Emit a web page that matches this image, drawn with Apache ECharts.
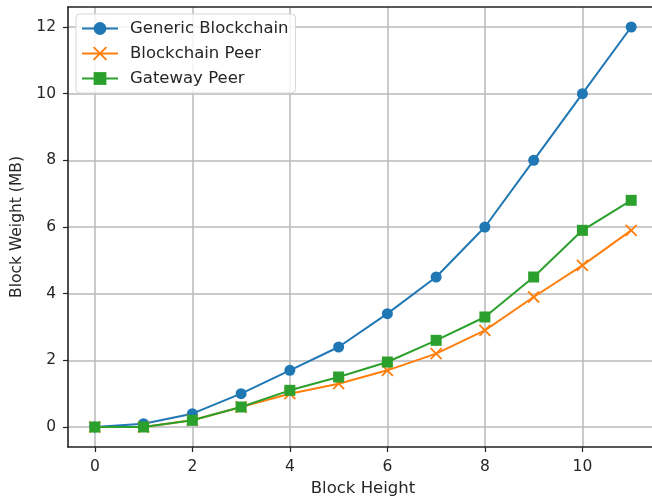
<!DOCTYPE html>
<html>
<head>
<meta charset="utf-8">
<script src="https://cdn.jsdelivr.net/npm/echarts@6/dist/echarts.min.js"></script>
<style>
html,body{margin:0;padding:0;overflow:hidden;background:#fff;}
#c{width:652px;height:497px;}
</style>
</head>
<body>
<div id="c"></div>
<script>
const blockHeights = [0,1,2,3,4,5,6,7,8,9,10,11];
const genericBlockchain = [0,0.1,0.4,1.0,1.7,2.4,3.4,4.5,6.0,8.0,10.0,12.0];
const blockchainPeer = [0,0,0.2,0.6,1.0,1.3,1.7,2.2,2.9,3.9,4.85,5.9];
const gatewayPeer = [0,0,0.2,0.6,1.1,1.5,1.95,2.6,3.3,4.5,5.9,6.8];
const xTicks = [0,2,4,6,8,10];
const yTicks = [0,2,4,6,8,10,12];
const seriesNames = ['Generic Blockchain','Blockchain Peer','Gateway Peer'];

const font = 'DejaVu Sans';
const txt = '#262626';
const pair = arr => arr.map((v,i)=>[blockHeights[i], v]);
const chart = echarts.init(document.getElementById('c'), null, {renderer:'canvas', width:652, height:497});
const axisLineStyle = {color:'#222', width:1.6};
chart.setOption({
  animation:false,
  backgroundColor:'#fff',
  grid:{left:68, top:7, width:590, bottom:50, containLabel:false, outerBoundsMode:'none', show:false},
  legend:{
    orient:'vertical', left:76, top:14, padding:[6,7,6,5], itemGap:8,
    itemWidth:36, itemHeight:16,
    backgroundColor:'rgba(255,255,255,0.85)', borderColor:'#d6d6d6', borderWidth:1, borderRadius:4,
    textStyle:{fontFamily:font, fontSize:16.5, color:txt, padding:[0,0,0,7]},
    data:seriesNames
  },
  xAxis:[{
    type:'value', min:-0.55, max:11.55, position:'bottom',
    name:'Block Height', nameLocation:'middle', nameGap:32,
    nameTextStyle:{fontFamily:font, fontSize:16.5, color:txt},
    axisLine:{show:true, onZero:false, lineStyle:axisLineStyle},
    axisTick:{show:true, inside:false, length:5, customValues:xTicks, lineStyle:{color:'#222', width:1.2}},
    splitLine:{show:true, lineStyle:{color:'#b8b8bc', width:1.5}},
    axisLabel:{customValues:xTicks, margin:12, fontFamily:font, fontSize:15.5, color:txt},
  },{
    type:'value', min:-0.55, max:11.55, position:'top',
    axisLine:{show:true, onZero:false, lineStyle:axisLineStyle},
    axisTick:{show:false}, axisLabel:{show:false}, splitLine:{show:false}
  }],
  yAxis:{
    type:'value', min:-0.6, max:12.6,
    name:'Block Weight (MB)', nameLocation:'middle', nameGap:39, nameRotate:90,
    nameTextStyle:{fontFamily:font, fontSize:15.5, color:txt},
    axisLine:{show:true, onZero:false, lineStyle:axisLineStyle},
    axisTick:{show:true, inside:false, length:5, customValues:yTicks, lineStyle:{color:'#222', width:1.2}},
    splitLine:{show:true, lineStyle:{color:'#b8b8bc', width:1.5}},
    axisLabel:{customValues:yTicks, margin:12, fontFamily:font, fontSize:15.5, color:txt},
  },
  series:[
    {name:seriesNames[0], type:'line', data:pair(genericBlockchain), symbol:'circle', symbolSize:11,
     itemStyle:{color:'#1f77b4'}, lineStyle:{color:'#1f77b4', width:2}, z:3},
    {name:seriesNames[1], type:'line', data:pair(blockchainPeer),
     symbol:'path://M0,0 L10,10 M10,0 L0,10', symbolSize:11,
     itemStyle:{color:'#ff7f0e', borderColor:'#ff7f0e', borderWidth:1.8}, lineStyle:{color:'#ff7f0e', width:2}, z:4},
    {name:seriesNames[2], type:'line', data:pair(gatewayPeer), symbol:'rect', symbolSize:11,
     itemStyle:{color:'#2ca02c'}, lineStyle:{color:'#2ca02c', width:2}, z:5},
  ]
});
</script>
</body>
</html>
